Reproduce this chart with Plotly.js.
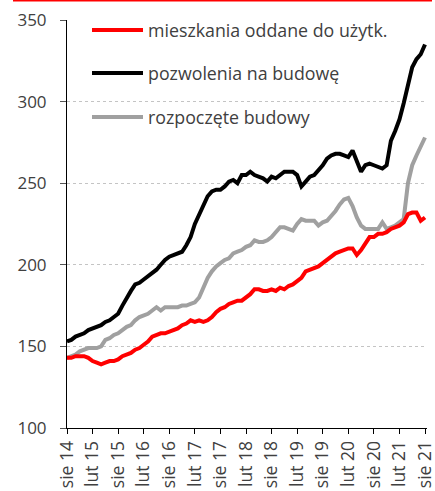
<!DOCTYPE html>
<html><head><meta charset="utf-8">
<script src="https://cdn.plot.ly/plotly-3.0.1.min.js"></script>
<style>html,body{margin:0;padding:0;background:#fff}#chart{width:435px;height:491px}</style>
</head><body><div id="chart"></div><script>
// Monthly data, Aug 2014 .. Aug 2021 (85 months)
const seriesNames = ["mieszkania oddane do użytk.", "pozwolenia na budowę", "rozpoczęte budowy"];
const seriesColors = ["#ff0000", "#000000", "#a0a0a0"];

const mieszkania = [143,143,144,144,144,143,141,140,139,140,141,141,142,144,145,146,148,149,151,153,
  156,157,158,158,159,160,161,163,164,166,165,166,165,166,168,171,173,174,176,177,
  178,178,180,182,185,185,184,184,185,184,186,185,187,188,190,192,196,197,198,199,
  201,203,205,207,208,209,210,210,206,209,213,217,217,219,219,220,222,223,224,226,
  231,232,232,227,229];
const pozwolenia = [153,154,156,157,158,160,161,162,163,165,166,168,170,175,180,184,188,189,191,193,
  195,197,200,203,205,206,207,208,212,217,225,231,236,242,245,246,246,248,251,252,
  250,255,255,257,255,254,253,251,254,253,255,257,257,257,255,248,251,254,255,258,
  261,265,267,268,268,267,266,270,264,257,261,262,261,260,259,261,276,282,289,299,
  310,321,326,329,335];
const rozpoczete = [143,144,145,147,148,149,149,149,150,154,155,157,158,160,162,163,166,168,169,170,
  172,174,172,174,174,174,174,175,175,176,177,180,186,192,196,199,201,203,204,207,
  208,209,211,212,215,214,214,215,217,220,223,223,222,221,225,228,227,227,227,224,
  226,227,230,233,237,240,241,236,229,224,222,222,222,222,226,222,223,224,226,228,
  250,261,267,272,278];
const tickLabels = ["sie 14","lut 15","sie 15","lut 16","sie 16","lut 17","sie 17","lut 18",
  "sie 18","lut 19","sie 19","lut 20","sie 20","lut 21","sie 21"];

const monthIdx = mieszkania.map((_, i) => i);
const tickVals = tickLabels.map((_, i) => i * 6);
const allSeries = [mieszkania, pozwolenia, rozpoczete];

const traces = allSeries.map((ys, k) => ({
  x: monthIdx, y: ys, type: "scatter", mode: "lines", name: seriesNames[k],
  line: {color: seriesColors[k], width: 4, shape: "linear"}, showlegend: false
}));
// draw gray first, then black, then red on top
const ordered = [traces[2], traces[1], traces[0]];

const txtColor = "#404040";
const fontFam = "'Open Sans', 'Noto Sans', sans-serif";

// legend drawn as shapes + annotations
const legendY = [30, 73, 117]; // pixel rows
const plotTop = 20, plotH = 408, plotL = 67, plotW = 360;
const py = p => 1 - (p - plotTop) / plotH;
const px = p => (p - plotL) / plotW;

const shapes = [];
const annotations = [];
seriesNames.forEach((n, k) => {
  shapes.push({type: "line", xref: "paper", yref: "paper", x0: px(92), x1: px(143),
    y0: py(legendY[k]), y1: py(legendY[k]), line: {color: seriesColors[k], width: 4}});
  annotations.push({xref: "paper", yref: "paper", x: px(146), y: py(legendY[k]),
    xanchor: "left", yanchor: "middle", showarrow: false, text: n,
    font: {family: fontFam, size: 17.8, color: txtColor}});
});
// thin red rule at the very top
shapes.push({type: "line", xref: "paper", yref: "paper", x0: px(13), x1: px(432),
  y0: py(0.75), y1: py(0.75), line: {color: "#ff0000", width: 1.5}});

const layout = {
  width: 435, height: 491,
  margin: {l: plotL, r: 435 - plotL - plotW, t: plotTop, b: 491 - plotTop - plotH},
  paper_bgcolor: "#ffffff", plot_bgcolor: "#ffffff",
  font: {family: fontFam, color: txtColor},
  showlegend: false,
  xaxis: {
    range: [0, plotW / (358 / 84)], tickvals: tickVals, ticktext: tickLabels,
    tickangle: -90, ticks: "outside", ticklen: 5, tickcolor: "#000", tickwidth: 1,
    showline: true, linecolor: "#000", linewidth: 1, showgrid: false, zeroline: false,
    ticklabeloverflow: "allow",
    tickfont: {family: fontFam, size: 17.5, color: txtColor}, fixedrange: true
  },
  yaxis: {
    range: [100, 350], dtick: 50, tick0: 100, ticks: "outside", ticklen: 6,
    tickcolor: "#555", tickwidth: 1, showline: true, linecolor: "#000", linewidth: 1,
    showgrid: true, gridcolor: "#c4c4c4", griddash: "dot", gridwidth: 1, zeroline: false,
    ticklabelstandoff: 10, ticklabeloverflow: "allow",
    tickfont: {family: fontFam, size: 17, color: txtColor}, fixedrange: true
  },
  shapes: shapes, annotations: annotations
};

Plotly.newPlot("chart", ordered, layout, {displayModeBar: false, staticPlot: true});
</script></body></html>
